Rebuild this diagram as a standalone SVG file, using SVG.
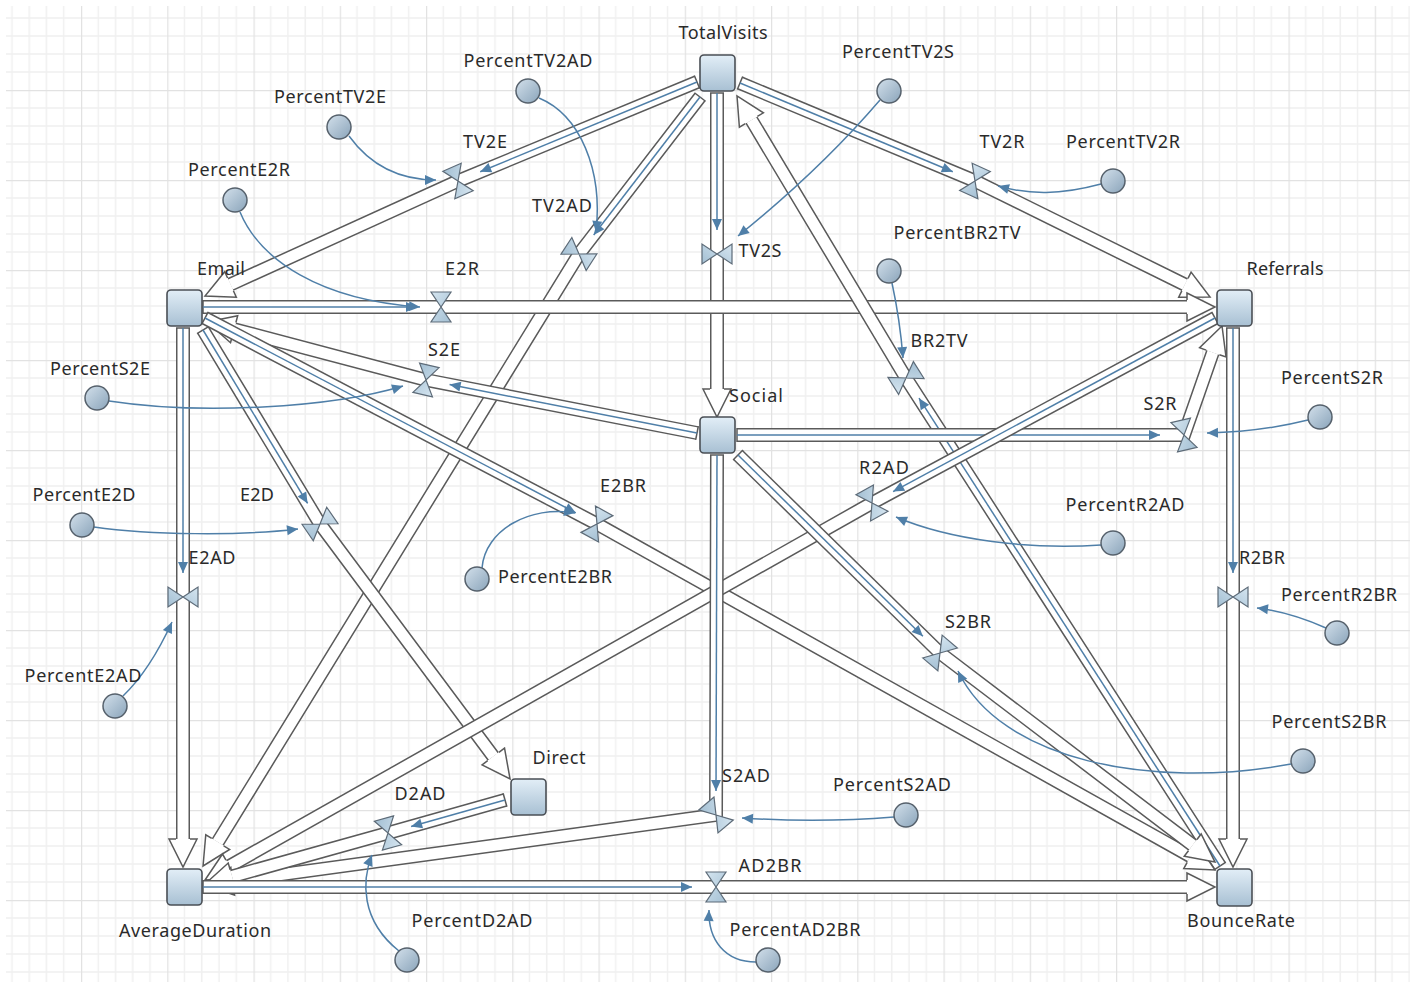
<svg xmlns="http://www.w3.org/2000/svg" width="1413" height="984" viewBox="0 0 1413 984">
<style>
.po{fill:none;stroke:#5a5a5a;stroke-width:14;stroke-linejoin:miter}
.pi{fill:none;stroke:#fff;stroke-width:11;stroke-linejoin:miter;marker-start:url(#cap);marker-end:url(#arr)}
.bl{fill:none;stroke:#4f7fa8;stroke-width:1.5;marker-end:url(#ba)}
.lk{fill:none;stroke:#4f7fa8;stroke-width:1.5;marker-end:url(#ba)}
.stk{fill:url(#gs);stroke:#4a4f55;stroke-width:1.6}
.aux{fill:url(#ga);stroke:#56616c;stroke-width:1.5}
.vlv{fill:url(#gv);stroke:#5d6b78;stroke-width:1.2;stroke-linejoin:miter}
text{font-family:"Noto Sans","Open Sans",sans-serif;font-size:18px;fill:#2a2a2a;text-anchor:middle}
</style>
<defs>
<linearGradient id="gs" x1="0" y1="0" x2="0" y2="1"><stop offset="0" stop-color="#e2eef7"/><stop offset="1" stop-color="#a8c0d3"/></linearGradient>
<linearGradient id="ga" x1="0" y1="0" x2="1" y2="1"><stop offset="0" stop-color="#d3e0eb"/><stop offset="1" stop-color="#8aa4ba"/></linearGradient>
<linearGradient id="gv" x1="0" y1="0" x2="1" y2="1"><stop offset="0" stop-color="#d5e5f0"/><stop offset="1" stop-color="#a3bfd3"/></linearGradient>
<pattern id="grid" patternUnits="userSpaceOnUse" x="81" y="90" width="86.25" height="90">
<path d="M17.25,0V90M34.5,0V90M51.75,0V90M69,0V90M0,18H86.25M0,36H86.25M0,54H86.25M0,72H86.25" stroke="#f0f0f0" stroke-width="1.5" fill="none"/>
<path d="M0.5,0V90M0,0.5H86.25" stroke="#e2e2e2" stroke-width="1.5" fill="none"/>
</pattern>
<marker id="arr" markerUnits="userSpaceOnUse" orient="auto" overflow="visible" markerWidth="1" markerHeight="1" refX="0" refY="0"><path d="M0,-7L0,-14L28,0L0,14L0,7" fill="#fff" stroke="#5a5a5a" stroke-width="1.5" stroke-linejoin="miter"/></marker>
<marker id="cap" markerUnits="userSpaceOnUse" orient="auto" overflow="visible" markerWidth="1" markerHeight="1" refX="0" refY="0"><path d="M0,-7L0,7" stroke="#5a5a5a" stroke-width="1.5"/></marker>
<marker id="ba" markerUnits="userSpaceOnUse" orient="auto" overflow="visible" markerWidth="1" markerHeight="1" refX="0" refY="0"><path d="M-11,-5L0,0L-11,5Z" fill="#4f7fa8"/></marker>
<path id="valve" d="M-10,-15L10,-15L0,0ZM-10,15L10,15L0,0Z"/>
</defs>
<rect width="1413" height="984" fill="#fff"/>
<rect x="6" y="6" width="1404" height="976" fill="url(#grid)"/>

<g id="connectors">
<!-- TV2E -->
<polyline class="po" points="697,82 458,181 230.5,284.4"/><polyline class="pi" points="697,82 458,181 230.5,284.4"/><line class="bl" x1="697" y1="82" x2="480.2" y2="171.8"/>
<!-- TV2AD -->
<polyline class="po" points="700,97 579,254 217.7,842.1"/><polyline class="pi" points="700,97 579,254 217.7,842.1"/><line class="bl" x1="700" y1="97" x2="593.7" y2="235"/>
<!-- TV2S -->
<polyline class="po" points="717,93 717,254 717,389"/><polyline class="pi" points="717,93 717,254 717,389"/><line class="bl" x1="717" y1="93" x2="717" y2="230"/>
<!-- TV2R -->
<polyline class="po" points="740,83 975,181 1184.9,284.6"/><polyline class="pi" points="740,83 975,181 1184.9,284.6"/><line class="bl" x1="740" y1="83" x2="952.8" y2="171.8"/>
<!-- E2R -->
<polyline class="po" points="203,307 441,307 1187,307"/><polyline class="pi" points="203,307 441,307 1187,307"/><line class="bl" x1="203" y1="307" x2="417" y2="307"/>
<!-- BR2TV -->
<polyline class="po" points="1220,866 906,378 751.4,120"/><polyline class="pi" points="1220,866 906,378 751.4,120"/><line class="bl" x1="1220" y1="866" x2="919" y2="398.2"/>
<!-- S2E -->
<polyline class="po" points="697,433 426,380 234.1,329.2"/><polyline class="pi" points="697,433 426,380 234.1,329.2"/><line class="bl" x1="697" y1="433" x2="449.6" y2="384.6"/>
<!-- S2R -->
<polyline class="po" points="737,435 1184,435 1212.8,352.4"/><polyline class="pi" points="737,435 1184,435 1212.8,352.4"/><line class="bl" x1="737" y1="435" x2="1160" y2="435"/>
<!-- E2D -->
<polyline class="po" points="203,330 320,524 493.3,756.5"/><polyline class="pi" points="203,330 320,524 493.3,756.5"/><line class="bl" x1="203" y1="330" x2="307.6" y2="503.4"/>
<!-- E2BR -->
<polyline class="po" points="205,318 597,524 1190.6,856.3"/><polyline class="pi" points="205,318 597,524 1190.6,856.3"/><line class="bl" x1="205" y1="318" x2="575.8" y2="512.8"/>
<!-- E2AD -->
<polyline class="po" points="183,328 183,597 183,839"/><polyline class="pi" points="183,328 183,597 183,839"/><line class="bl" x1="183" y1="328" x2="183" y2="573"/>
<!-- R2AD -->
<polyline class="po" points="1215,318 872,503 229.4,866.2"/><polyline class="pi" points="1215,318 872,503 229.4,866.2"/><line class="bl" x1="1215" y1="318" x2="893.1" y2="491.6"/>
<!-- R2BR -->
<polyline class="po" points="1233,328 1233,597 1233,839"/><polyline class="pi" points="1233,328 1233,597 1233,839"/><line class="bl" x1="1233" y1="328" x2="1233" y2="573"/>
<!-- S2BR -->
<polyline class="po" points="738,455 940,653 1192.7,845.1"/><polyline class="pi" points="738,455 940,653 1192.7,845.1"/><line class="bl" x1="738" y1="455" x2="922.9" y2="636.2"/>
<!-- S2AD -->
<polyline class="po" points="717,455 716,815 232.7,881.2"/><polyline class="pi" points="717,455 716,815 232.7,881.2"/><line class="bl" x1="717" y1="455" x2="716" y2="791"/>
<!-- D2AD -->
<polyline class="po" points="505,800 388,833 232,876.5"/><polyline class="pi" points="505,800 388,833 232,876.5"/><line class="bl" x1="505" y1="800" x2="411.1" y2="826.5"/>
<!-- AD2BR -->
<polyline class="po" points="203,887 716,887 1187,887"/><polyline class="pi" points="203,887 716,887 1187,887"/><line class="bl" x1="203" y1="887" x2="692" y2="887"/>
<!-- links -->
<path class="lk" d="M349,136C370,165 400,180 436,180"/>
<path class="lk" d="M539,98C580,115 603,170 596,232"/>
<path class="lk" d="M880,100Q820,170 738,236"/>
<path class="lk" d="M1101,184C1060,195 1030,195 998,186"/>
<path class="lk" d="M240,212C260,260 320,300 420,307"/>
<path class="lk" d="M892,283Q900,320 903,358"/>
<path class="lk" d="M109,401C200,415 330,408 403,386"/>
<path class="lk" d="M1308,420Q1260,432 1207,433"/>
<path class="lk" d="M94,527C150,535 240,536 298,529"/>
<path class="lk" d="M482,568C485,530 530,505 575,513"/>
<path class="lk" d="M123,696Q150,670 172,622"/>
<path class="lk" d="M1101,545C1030,550 950,540 896,517"/>
<path class="lk" d="M1326,628Q1290,612 1257,608"/>
<path class="lk" d="M1291,764C1150,790 1000,760 958,671"/>
<path class="lk" d="M894,817Q820,823 742,818"/>
<path class="lk" d="M399,951C360,920 362,880 372,855"/>
<path class="lk" d="M756,962C725,962 708,940 709,910"/>
</g>

<g id="flow-TV2E"><use href="#valve" class="vlv" transform="translate(458,181) rotate(156.5)"/><text x="485" y="148" textLength="44">TV2E</text></g>
<g id="flow-TV2AD"><use href="#valve" class="vlv" transform="translate(579,254) rotate(122.9)"/><text x="562" y="212" textLength="60">TV2AD</text></g>
<g id="flow-TV2S"><use href="#valve" class="vlv" transform="translate(717,254) rotate(90)"/><text x="760" y="257" textLength="43">TV2S</text></g>
<g id="flow-TV2R"><use href="#valve" class="vlv" transform="translate(975,181) rotate(24.5)"/><text x="1002" y="148" textLength="45">TV2R</text></g>
<g id="flow-E2R"><use href="#valve" class="vlv" transform="translate(441,307)"/><text x="462" y="275" textLength="34">E2R</text></g>
<g id="flow-BR2TV"><use href="#valve" class="vlv" transform="translate(906,378) rotate(-122.1)"/><text x="939" y="347" textLength="57">BR2TV</text></g>
<g id="flow-S2E"><use href="#valve" class="vlv" transform="translate(426,380) rotate(-167.2)"/><text x="444" y="356" textLength="32">S2E</text></g>
<g id="flow-S2R"><use href="#valve" class="vlv" transform="translate(1184,435) rotate(-12.7)"/><text x="1160" y="410" textLength="33">S2R</text></g>
<g id="flow-E2D"><use href="#valve" class="vlv" transform="translate(320,524) rotate(55.6)"/><text x="257" y="501" textLength="34">E2D</text></g>
<g id="flow-E2BR"><use href="#valve" class="vlv" transform="translate(597,524) rotate(28.7)"/><text x="623" y="492" textLength="46">E2BR</text></g>
<g id="flow-E2AD"><use href="#valve" class="vlv" transform="translate(183,597) rotate(90)"/><text x="212" y="564" textLength="47">E2AD</text></g>
<g id="flow-R2AD"><use href="#valve" class="vlv" transform="translate(872,503) rotate(150.9)"/><text x="884" y="474" textLength="50">R2AD</text></g>
<g id="flow-R2BR"><use href="#valve" class="vlv" transform="translate(1233,597) rotate(90)"/><text x="1262" y="564" textLength="46">R2BR</text></g>
<g id="flow-S2BR"><use href="#valve" class="vlv" transform="translate(940,653) rotate(40.5)"/><text x="968" y="628" textLength="46">S2BR</text></g>
<g id="flow-S2AD"><use href="#valve" class="vlv" transform="translate(716,815) rotate(140)"/><text x="746" y="782" textLength="48">S2AD</text></g>
<g id="flow-D2AD"><use href="#valve" class="vlv" transform="translate(388,833) rotate(164.4)"/><text x="420" y="800" textLength="51">D2AD</text></g>
<g id="flow-AD2BR"><use href="#valve" class="vlv" transform="translate(716,887)"/><text x="770" y="872" textLength="63">AD2BR</text></g>

<g id="stock-TotalVisits"><rect class="stk" x="700" y="55" width="35" height="36" rx="4"/><text x="723" y="39" textLength="89">TotalVisits</text></g>
<g id="stock-Email"><rect class="stk" x="167" y="290" width="35" height="36" rx="4"/><text x="221" y="275" textLength="48">Email</text></g>
<g id="stock-Referrals"><rect class="stk" x="1217" y="290" width="35" height="36" rx="4"/><text x="1285" y="275" textLength="77">Referrals</text></g>
<g id="stock-Social"><rect class="stk" x="700" y="417" width="35" height="36" rx="4"/><text x="756" y="402" textLength="54">Social</text></g>
<g id="stock-Direct"><rect class="stk" x="511" y="779" width="35" height="36" rx="4"/><text x="559" y="764" textLength="53">Direct</text></g>
<g id="stock-AverageDuration"><rect class="stk" x="167" y="869" width="35" height="36" rx="4"/><text x="195" y="937" textLength="152">AverageDuration</text></g>
<g id="stock-BounceRate"><rect class="stk" x="1217" y="869" width="35" height="37" rx="4"/><text x="1241" y="927" textLength="108">BounceRate</text></g>

<g id="aux-PercentTV2AD"><circle class="aux" cx="528" cy="91" r="12"/><text x="528" y="67" textLength="129">PercentTV2AD</text></g>
<g id="aux-PercentTV2S"><circle class="aux" cx="889" cy="91" r="12"/><text x="898" y="58" textLength="112">PercentTV2S</text></g>
<g id="aux-PercentTV2E"><circle class="aux" cx="339" cy="127" r="12"/><text x="330" y="103" textLength="112">PercentTV2E</text></g>
<g id="aux-PercentTV2R"><circle class="aux" cx="1113" cy="181" r="12"/><text x="1123" y="148" textLength="114">PercentTV2R</text></g>
<g id="aux-PercentE2R"><circle class="aux" cx="235" cy="200" r="12"/><text x="239" y="176" textLength="102">PercentE2R</text></g>
<g id="aux-PercentBR2TV"><circle class="aux" cx="889" cy="271" r="12"/><text x="957" y="239" textLength="127">PercentBR2TV</text></g>
<g id="aux-PercentS2E"><circle class="aux" cx="97" cy="398" r="12"/><text x="100" y="375" textLength="100">PercentS2E</text></g>
<g id="aux-PercentS2R"><circle class="aux" cx="1320" cy="417" r="12"/><text x="1332" y="384" textLength="102">PercentS2R</text></g>
<g id="aux-PercentE2D"><circle class="aux" cx="82" cy="525" r="12"/><text x="84" y="501" textLength="103">PercentE2D</text></g>
<g id="aux-PercentR2AD"><circle class="aux" cx="1113" cy="543" r="12"/><text x="1125" y="511" textLength="119">PercentR2AD</text></g>
<g id="aux-PercentE2BR"><circle class="aux" cx="477" cy="579" r="12"/><text x="555" y="583" textLength="114">PercentE2BR</text></g>
<g id="aux-PercentR2BR"><circle class="aux" cx="1337" cy="633" r="12"/><text x="1339" y="601" textLength="116">PercentR2BR</text></g>
<g id="aux-PercentE2AD"><circle class="aux" cx="115" cy="706" r="12"/><text x="83" y="682" textLength="117">PercentE2AD</text></g>
<g id="aux-PercentS2BR"><circle class="aux" cx="1303" cy="761" r="12"/><text x="1329" y="728" textLength="115">PercentS2BR</text></g>
<g id="aux-PercentS2AD"><circle class="aux" cx="906" cy="815" r="12"/><text x="892" y="791" textLength="118">PercentS2AD</text></g>
<g id="aux-PercentD2AD"><circle class="aux" cx="407" cy="960" r="12"/><text x="472" y="927" textLength="121">PercentD2AD</text></g>
<g id="aux-PercentAD2BR"><circle class="aux" cx="768" cy="960" r="12"/><text x="795" y="936" textLength="131">PercentAD2BR</text></g>
</svg>
